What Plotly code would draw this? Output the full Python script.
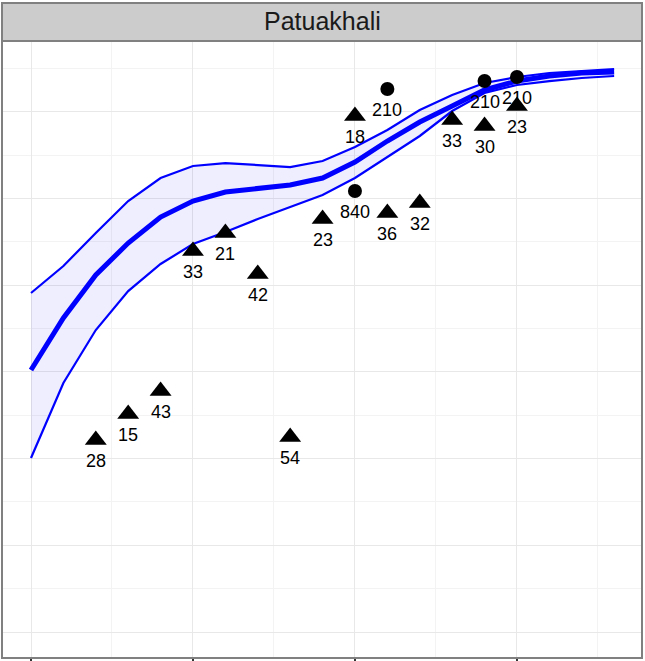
import plotly.graph_objects as go

# fitted curve (median and band)
curve_x = list(range(19))
fit_mid = [30.23, 36.23, 41.19, 44.88, 47.88, 49.73, 50.77, 51.23, 51.58, 52.38,
           54.23, 56.65, 58.84, 60.69, 62.54, 63.57, 64.15, 64.50, 64.61]
fit_hi = [39.11, 42.23, 46.04, 49.73, 52.38, 53.77, 54.11, 53.88, 53.65, 54.34,
          55.96, 57.92, 60.23, 61.96, 63.34, 64.04, 64.50, 64.73, 64.96]
fit_lo = [20.08, 28.73, 34.84, 39.34, 42.46, 44.77, 46.15, 47.65, 49.04, 50.42,
          52.38, 54.81, 57.23, 60.11, 62.19, 63.11, 63.57, 63.92, 64.15]

# observed points: triangles and circles, labelled with sample size
tri_x = [2, 3, 4, 5, 6, 7, 8, 9, 10, 11, 12, 13, 14, 15]
tri_y = [22.15, 25.15, 27.81, 43.96, 46.04, 41.31, 22.50, 47.65, 59.54, 48.35,
         49.50, 59.08, 58.38, 60.69]
tri_n = [28, 15, 43, 33, 21, 42, 54, 23, 18, 36, 32, 33, 30, 23]

dot_x = [10, 11, 14, 15]
dot_y = [50.88, 62.65, 63.57, 64.04]
dot_n = [840, 210, 210, 210]

fig = go.Figure()

fig.add_trace(go.Scatter(x=curve_x, y=fit_lo, mode="lines",
                         line=dict(color="#0000FF", width=2.2)))
fig.add_trace(go.Scatter(x=curve_x, y=fit_hi, mode="lines", fill="tonexty",
                         fillcolor="rgba(0,0,255,0.065)",
                         line=dict(color="#0000FF", width=2.2)))
fig.add_trace(go.Scatter(x=curve_x, y=fit_mid, mode="lines",
                         line=dict(color="#0000FF", width=5)))

fig.add_trace(go.Scatter(x=tri_x, y=tri_y, mode="markers",
                         marker=dict(symbol="triangle-up", size=19, color="black")))
fig.add_trace(go.Scatter(x=dot_x, y=dot_y, mode="markers",
                         marker=dict(symbol="circle", size=14, color="black")))

lab_font = dict(family="Liberation Sans, Arial", size=18, color="black")
for xs, ys, ns in [(tri_x, tri_y, tri_n), (dot_x, dot_y, dot_n)]:
    for x, y, n in zip(xs, ys, ns):
        fig.add_annotation(x=x, y=y, text=str(n), showarrow=False,
                           yshift=-21, yanchor="middle", font=lab_font)

# facet strip
ph = 661 - 41 - 3
fig.add_shape(type="rect", xref="paper", yref="paper", x0=0, x1=1,
              y0=1, y1=1 + 38 / ph, fillcolor="#CCCCCC",
              line=dict(color="#808080", width=2), layer="above")
fig.add_annotation(xref="paper", yref="paper", x=0.5, y=1 + 20 / ph,
                   xanchor="center", yanchor="middle",
                   text="Patuakhali", showarrow=False,
                   font=dict(family="Liberation Sans, Arial", size=25, color="#1A1A1A"))
fig.add_shape(type="rect", xref="paper", yref="paper", x0=0, x1=1, y0=0, y1=1,
              line=dict(color="#808080", width=2), layer="above")

fig.update_layout(
    width=645, height=661,
    margin=dict(l=2, r=3, t=41, b=3, autoexpand=False),
    paper_bgcolor="white", plot_bgcolor="white",
    showlegend=False,
    xaxis=dict(range=[-0.895, 18.86], tick0=0, dtick=5, showticklabels=False,
               showgrid=True, gridcolor="#E8E8E8", gridwidth=1, zeroline=False,
               ticks="outside", ticklen=4, tickwidth=2, tickcolor="#333333",
               minor=dict(tick0=0, dtick=2.5, showgrid=True,
                          gridcolor="#F3F3F3", gridwidth=1)),
    yaxis=dict(range=[-3.0, 68.19], tick0=0, dtick=10, showticklabels=False,
               showgrid=True, gridcolor="#E8E8E8", gridwidth=1, zeroline=False,
               ticks="",
               minor=dict(tick0=0, dtick=5, showgrid=True,
                          gridcolor="#F3F3F3", gridwidth=1)),
)

fig.write_html("out.html", config={"displayModeBar": False},
               post_script="document.body.style.margin='0';")
